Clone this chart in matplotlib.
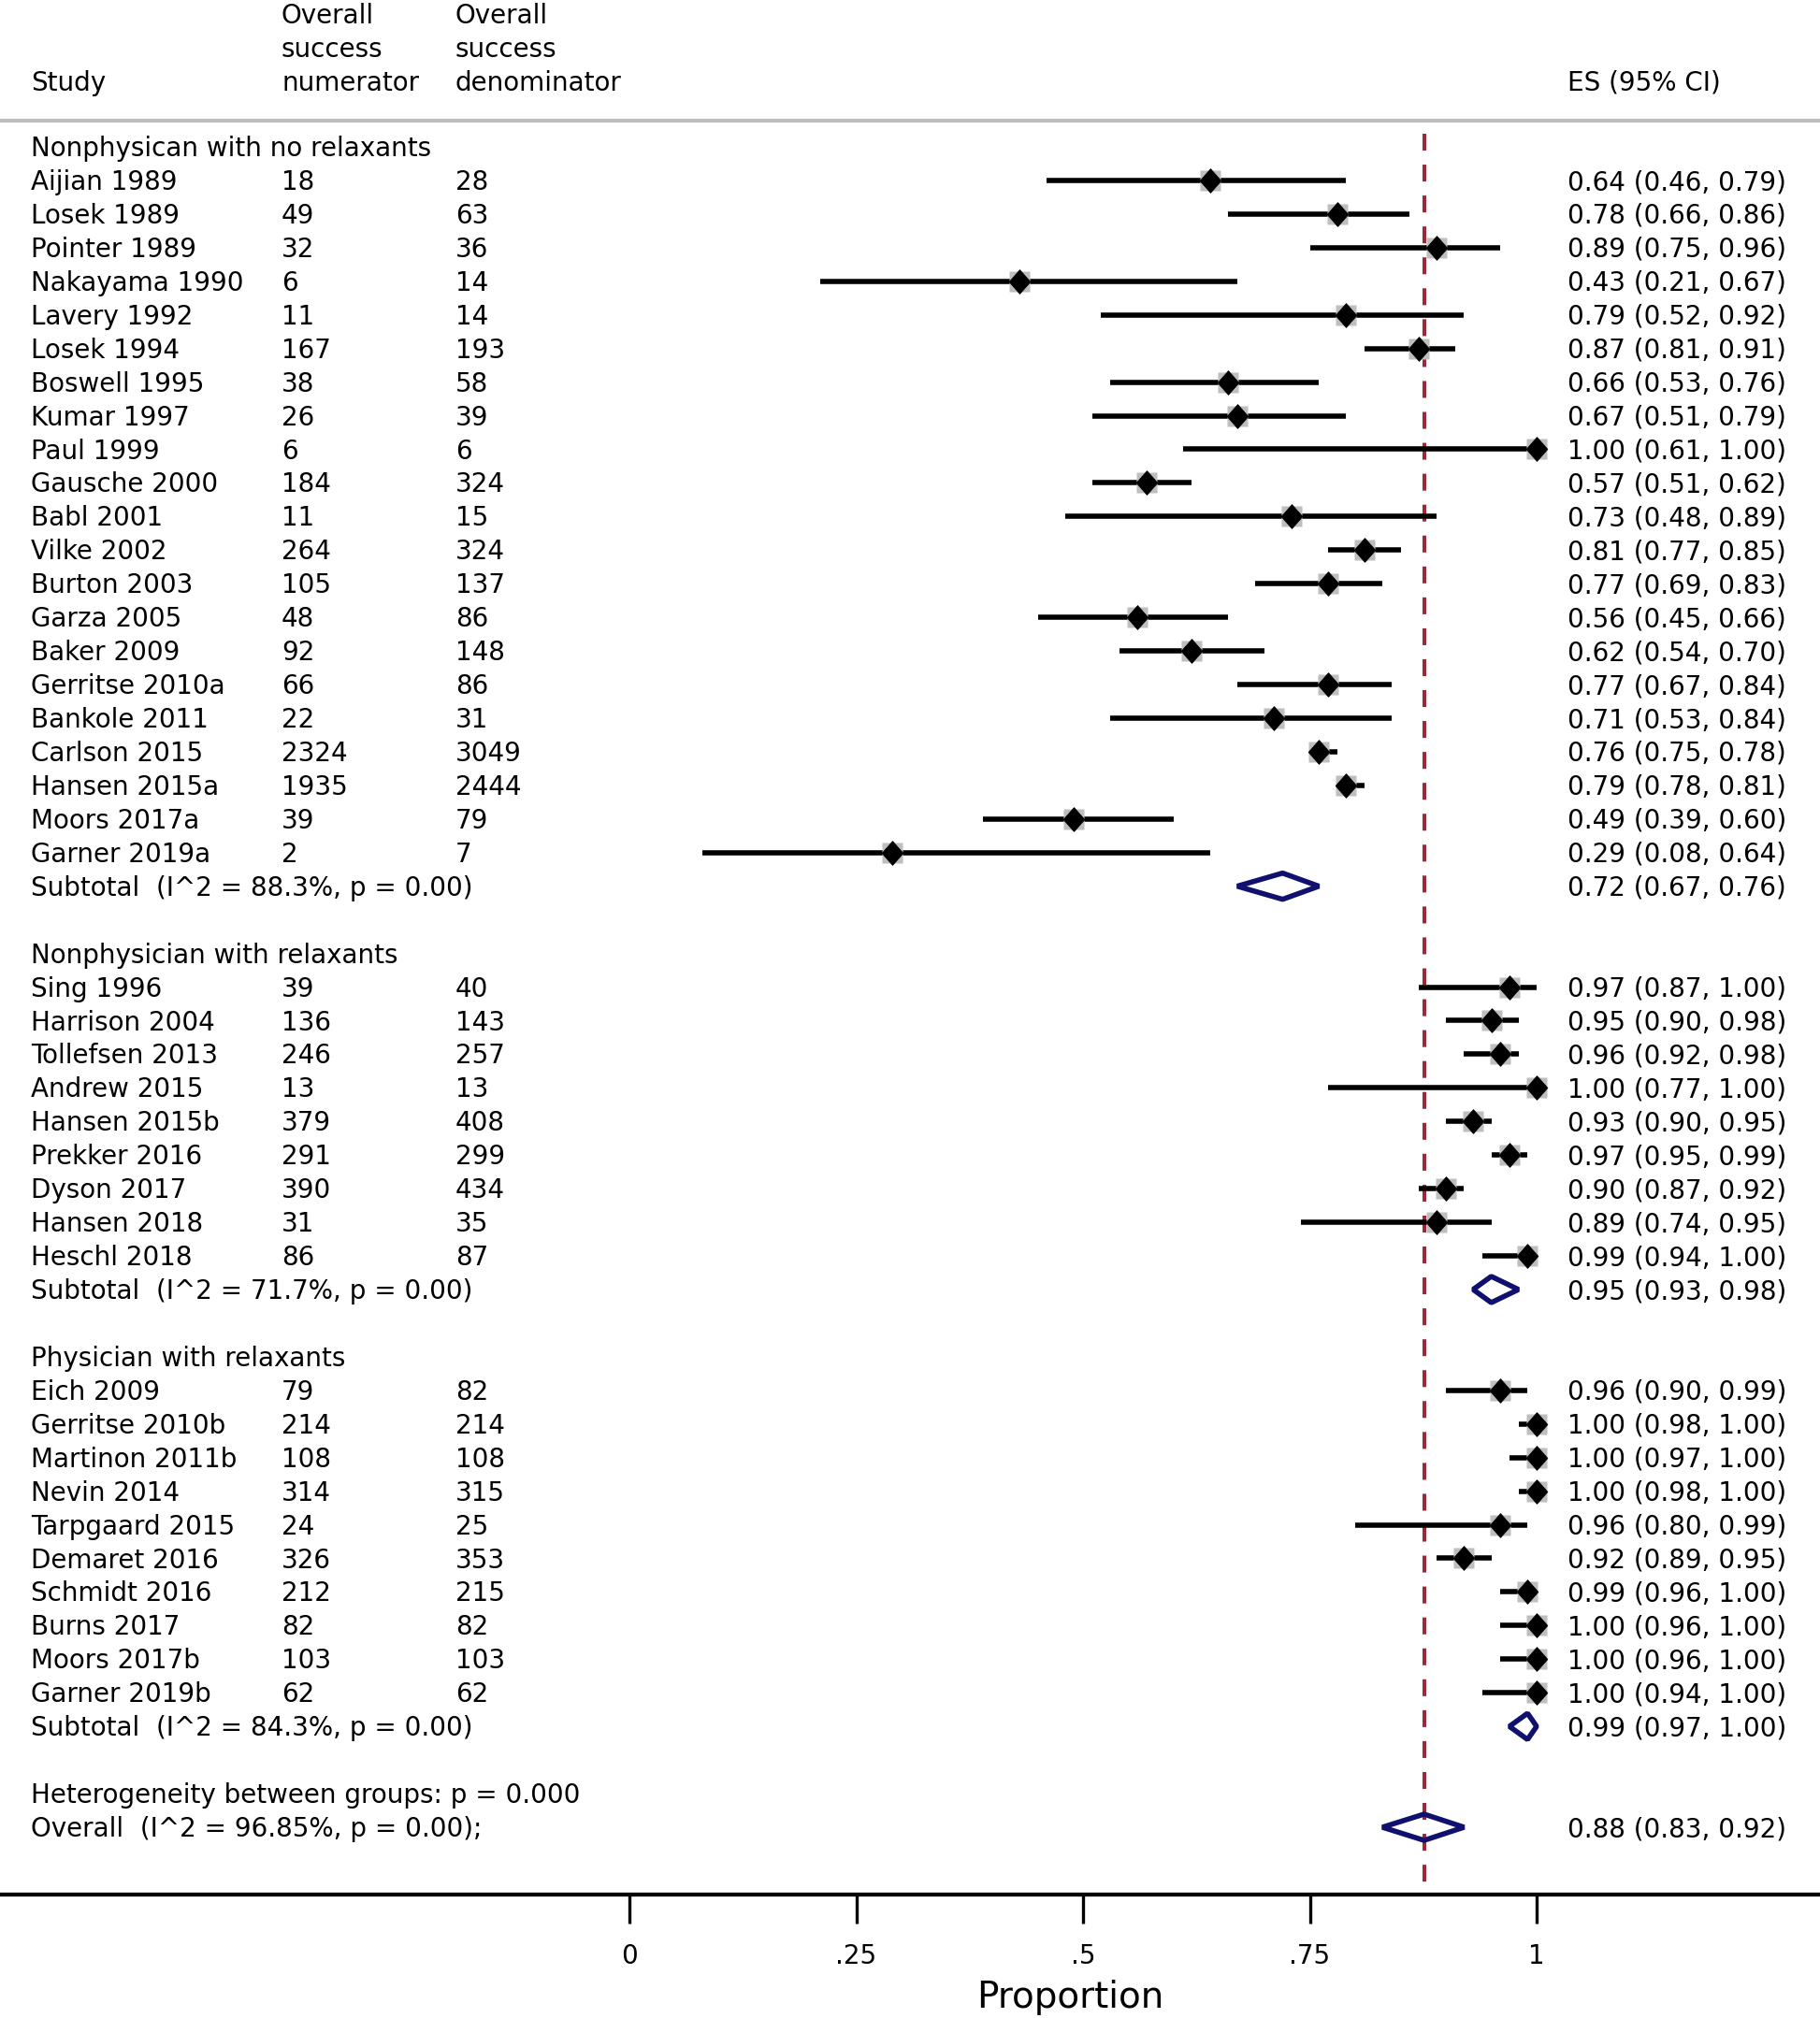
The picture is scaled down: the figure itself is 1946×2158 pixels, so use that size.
import matplotlib
matplotlib.use('Agg')
import matplotlib.pyplot as plt
from matplotlib.patches import Polygon

plt.rcParams['font.family'] = ['DejaVu Sans']
plt.rcParams['lines.scale_dashes'] = False

# ---------------- data ----------------
group_names = ["Nonphysican with no relaxants",
               "Nonphysician with relaxants",
               "Physician with relaxants"]

g1_study = ["Aijian 1989", "Losek 1989", "Pointer 1989", "Nakayama 1990", "Lavery 1992",
            "Losek 1994", "Boswell 1995", "Kumar 1997", "Paul 1999", "Gausche 2000",
            "Babl 2001", "Vilke 2002", "Burton 2003", "Garza 2005", "Baker 2009",
            "Gerritse 2010a", "Bankole 2011", "Carlson 2015", "Hansen 2015a",
            "Moors 2017a", "Garner 2019a"]
g1_num = [18, 49, 32, 6, 11, 167, 38, 26, 6, 184, 11, 264, 105, 48, 92, 66, 22, 2324, 1935, 39, 2]
g1_den = [28, 63, 36, 14, 14, 193, 58, 39, 6, 324, 15, 324, 137, 86, 148, 86, 31, 3049, 2444, 79, 7]
g1_es = [0.64, 0.78, 0.89, 0.43, 0.79, 0.87, 0.66, 0.67, 1.00, 0.57, 0.73, 0.81, 0.77, 0.56,
         0.62, 0.77, 0.71, 0.76, 0.79, 0.49, 0.29]
g1_lo = [0.46, 0.66, 0.75, 0.21, 0.52, 0.81, 0.53, 0.51, 0.61, 0.51, 0.48, 0.77, 0.69, 0.45,
         0.54, 0.67, 0.53, 0.75, 0.78, 0.39, 0.08]
g1_hi = [0.79, 0.86, 0.96, 0.67, 0.92, 0.91, 0.76, 0.79, 1.00, 0.62, 0.89, 0.85, 0.83, 0.66,
         0.70, 0.84, 0.84, 0.78, 0.81, 0.60, 0.64]

g2_study = ["Sing 1996", "Harrison 2004", "Tollefsen 2013", "Andrew 2015", "Hansen 2015b",
            "Prekker 2016", "Dyson 2017", "Hansen 2018", "Heschl 2018"]
g2_num = [39, 136, 246, 13, 379, 291, 390, 31, 86]
g2_den = [40, 143, 257, 13, 408, 299, 434, 35, 87]
g2_es = [0.97, 0.95, 0.96, 1.00, 0.93, 0.97, 0.90, 0.89, 0.99]
g2_lo = [0.87, 0.90, 0.92, 0.77, 0.90, 0.95, 0.87, 0.74, 0.94]
g2_hi = [1.00, 0.98, 0.98, 1.00, 0.95, 0.99, 0.92, 0.95, 1.00]

g3_study = ["Eich 2009", "Gerritse 2010b", "Martinon 2011b", "Nevin 2014", "Tarpgaard 2015",
            "Demaret 2016", "Schmidt 2016", "Burns 2017", "Moors 2017b", "Garner 2019b"]
g3_num = [79, 214, 108, 314, 24, 326, 212, 82, 103, 62]
g3_den = [82, 214, 108, 315, 25, 353, 215, 82, 103, 62]
g3_es = [0.96, 1.00, 1.00, 1.00, 0.96, 0.92, 0.99, 1.00, 1.00, 1.00]
g3_lo = [0.90, 0.98, 0.97, 0.98, 0.80, 0.89, 0.96, 0.96, 0.96, 0.94]
g3_hi = [0.99, 1.00, 1.00, 1.00, 0.99, 0.95, 1.00, 1.00, 1.00, 1.00]

sub_label = ["Subtotal  (I^2 = 88.3%, p = 0.00)",
             "Subtotal  (I^2 = 71.7%, p = 0.00)",
             "Subtotal  (I^2 = 84.3%, p = 0.00)"]
sub_es = [0.72, 0.95, 0.99]
sub_lo = [0.67, 0.93, 0.97]
sub_hi = [0.76, 0.98, 1.00]

het_label = "Heterogeneity between groups: p = 0.000"
overall_label = "Overall  (I^2 = 96.85%, p = 0.00);"
overall_es = 0.876
overall_lo = 0.83
overall_hi = 0.92

tick_vals = [0, 0.25, 0.5, 0.75, 1]
tick_labels = ["0", ".25", ".5", ".75", "1"]
header_num = ["Overall", "success", "numerator"]
header_den = ["Overall", "success", "denominator"]
x_label = "Proportion"

groups = [
    (g1_study, g1_num, g1_den, g1_es, g1_lo, g1_hi),
    (g2_study, g2_num, g2_den, g2_es, g2_lo, g2_hi),
    (g3_study, g3_num, g3_den, g3_es, g3_lo, g3_hi),
]

# ---------------- layout ----------------
W, H = 1946, 2158
X0, X1 = 673, 1643          # pixel positions of 0 and 1
ROW0, ROWH = 157, 35.94     # pixel y of row 0 and row height

fig = plt.figure(figsize=(W / 100, H / 100), dpi=100)
ax = fig.add_axes([0, 0, 1, 1])
scale = X1 - X0
ax.set_xlim(-X0 / scale, (W - X0) / scale)
ax.set_ylim((H - ROW0) / ROWH, -ROW0 / ROWH)
ax.axis('off')


def px(p):
    return (p - X0) / scale


col_study = px(33)
col_num = px(301)
col_den = px(487)
col_es = px(1676)

FS = 20
BASE = 0.28
NAVY = '#10106e'
RED = '#9a2a38'
GREY = '#bebebe'
diamond_marker = [(-0.44, 0), (0, 0.5), (0.44, 0), (0, -0.5), (-0.44, 0)]


def txt(x, r, s, **kw):
    ax.text(x, r + BASE, s, va='baseline', ha=kw.pop('ha', 'left'), fontsize=kw.pop('fontsize', FS),
            color='black', **kw)


def es_text(e, l, h):
    return f"{e:.2f} ({l:.2f}, {h:.2f})"


def sum_diamond(e, l, h, r):
    hh = 0.39
    poly = Polygon([(l, r), (e, r - hh), (h, r), (e, r + hh)], closed=True, fill=False,
                   edgecolor=NAVY, linewidth=4.0, joinstyle='bevel', zorder=6)
    ax.add_patch(poly)


# header
for i, (a, b) in enumerate(zip(header_num, header_den)):
    r = -3.95 + i
    txt(col_num, r, a)
    txt(col_den, r, b)
txt(col_study, -1.95, "Study")
txt(col_es, -1.95, "ES (95% CI)")
ax.axhline(-0.79, color=GREY, lw=3, zorder=1)

row = 0
for gi, (st, nu, de, es, lo, hi) in enumerate(groups):
    txt(col_study, row, group_names[gi])
    row += 1
    for s, n, d, e, l, h in zip(st, nu, de, es, lo, hi):
        txt(col_study, row, s)
        txt(col_num, row, str(n))
        txt(col_den, row, str(d))
        txt(col_es, row, es_text(e, l, h))
        ax.plot([l, h], [row, row], color='black', lw=4, solid_capstyle='butt', zorder=3)
        ax.plot([e], [row], marker='s', ms=15.8, color=GREY, mec='none', zorder=4)
        ax.plot([e], [row], marker=diamond_marker, ms=18.5, color='black', mec='black',
                mew=0.6, zorder=5)
        row += 1
    txt(col_study, row, sub_label[gi])
    txt(col_es, row, es_text(sub_es[gi], sub_lo[gi], sub_hi[gi]))
    sum_diamond(sub_es[gi], sub_lo[gi], sub_hi[gi], row)
    row += 2

txt(col_study, row, het_label)
row += 1
txt(col_study, row, overall_label)
txt(col_es, row, es_text(overall_es, overall_lo, overall_hi))
sum_diamond(overall_es, overall_lo, overall_hi, row)

axis_row = (2026 - ROW0) / ROWH
# reference line
ax.plot([overall_es, overall_es], [(143 - ROW0) / ROWH, axis_row], color=RED, lw=2.9,
        linestyle=(0, (13, 10.8)), solid_capstyle='butt', dash_capstyle='butt', zorder=2)

# x axis
ax.axhline(axis_row, color='black', lw=3.1, zorder=7)
tick_end = (2057 - ROW0) / ROWH
for v, lab in zip(tick_vals, tick_labels):
    ax.plot([v, v], [axis_row, tick_end], color='black', lw=2.4, solid_capstyle='butt', zorder=7)
    ax.text(v, (2100 - ROW0) / ROWH, lab, ha='center', va='baseline', fontsize=FS)
ax.text(px(1144), (2147 - ROW0) / ROWH, x_label, ha='center', va='baseline', fontsize=28)

fig.savefig('out.png', dpi=100)
